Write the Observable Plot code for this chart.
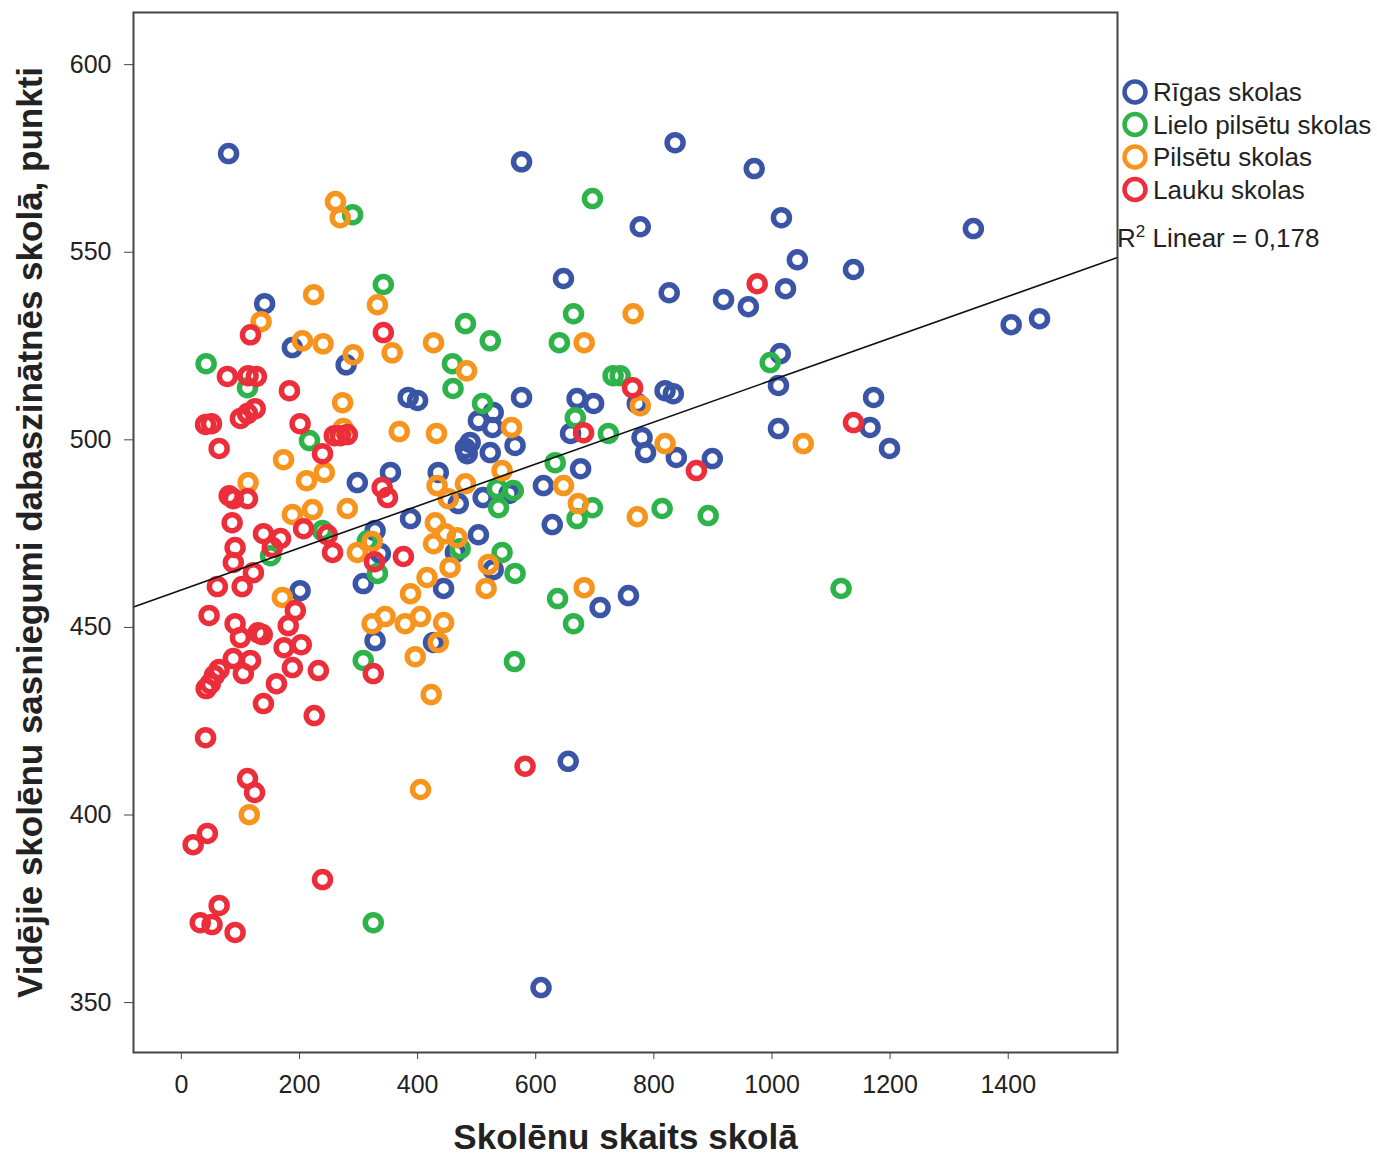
<!DOCTYPE html>
<html>
<head>
<meta charset="utf-8">
<script src="https://cdn.jsdelivr.net/npm/d3@7"></script>
<script src="https://cdn.jsdelivr.net/npm/@observablehq/plot@0.6"></script>
<style>
  html, body { margin: 0; padding: 0; background: #fff; }
  #chart { position: relative; width: 1377px; height: 1159px; }
</style>
</head>
<body>
<div id="chart"></div>
<script>
// School groups and their colours
const groups = ["Rīgas skolas", "Lielo pilsētu skolas", "Pilsētu skolas", "Lauku skolas"];
const groupColors = ["#3A55A6", "#2DB34A", "#F7941D", "#EC2D3A"];

// [students in school, mean science score]
const rigaSchools = [
  [80,576.3],[576,574.1],[836,579.2],[970,572.3],[777,556.8],[1016,559.2],[1341,556.3],[647,543.0],
  [1043,548.0],[1138,545.4],[826,539.2],[918,537.4],[960,535.5],[1023,540.3],[1405,530.7],[1453,532.3],
  [141,536.3],[188,524.6],[279,520.0],[1014,523.0],[1011,514.5],[1172,511.3],[1166,503.3],[1199,497.7],
  [1011,503.0],[899,495.0],[838,495.3],[780,500.6],[786,496.6],[772,509.7],[819,513.1],[833,512.3],
  [670,511.0],[698,509.7],[659,501.7],[676,492.3],[757,458.5],[709,455.3],[655,414.3],[609,354.0],
  [384,511.3],[400,510.5],[576,511.3],[528,507.3],[503,505.1],[527,503.3],[489,499.3],[481,497.7],
  [484,496.3],[523,496.6],[565,498.5],[354,491.3],[435,491.3],[298,488.6],[469,483.0],[511,484.6],
  [555,485.7],[613,487.8],[628,477.4],[388,479.0],[328,475.8],[337,469.7],[464,470.0],[503,474.7],
  [528,465.4],[308,461.7],[444,460.4],[328,446.5],[427,446.0],[201,459.8]
];
const bigCitySchools = [
  [696,564.3],[290,560.0],[342,541.4],[664,533.6],[481,531.0],[523,526.4],[640,525.9],[459,520.3],
  [460,513.7],[42,520.3],[112,513.9],[731,517.1],[743,517.1],[997,520.6],[510,509.7],[667,505.9],
  [723,501.7],[633,493.9],[217,499.8],[535,487.0],[562,486.5],[537,481.9],[696,481.9],[670,479.0],
  [814,481.7],[892,479.8],[239,475.8],[151,469.1],[315,473.1],[472,471.0],[543,470.0],[332,464.4],
  [565,464.4],[637,457.7],[664,451.0],[1117,460.4],[308,441.2],[564,440.9],[325,371.3]
];
const townSchools = [
  [261,563.5],[269,559.2],[224,538.7],[135,531.5],[205,526.4],[240,525.6],[291,522.7],[332,536.0],
  [357,523.2],[427,525.9],[483,518.4],[682,525.9],[765,533.6],[273,509.9],[274,503.0],[369,502.2],
  [432,501.7],[559,503.3],[777,509.1],[819,499.0],[1053,499.0],[173,494.7],[113,488.6],[212,489.1],
  [242,491.3],[188,480.1],[222,481.4],[281,481.7],[433,487.8],[481,488.3],[452,484.3],[543,491.8],
  [647,487.8],[672,483.0],[772,479.5],[430,477.9],[447,475.0],[427,472.3],[467,473.9],[323,472.9],
  [298,470.0],[455,466.0],[520,466.8],[416,463.3],[516,460.4],[388,459.0],[682,460.6],[171,458.0],
  [323,451.0],[345,452.9],[379,451.0],[405,452.9],[444,451.3],[435,446.0],[396,442.2],[423,432.1],
  [405,406.8],[115,400.1]
];
const ruralSchools = [
  [975,541.6],[117,528.0],[342,528.6],[78,516.9],[113,517.1],[127,516.9],[183,513.1],[41,504.1],
  [51,504.3],[100,505.7],[112,507.0],[125,508.3],[201,504.3],[64,497.7],[239,496.3],[259,501.1],
  [269,501.1],[281,501.4],[764,513.9],[681,501.9],[1138,504.6],[872,491.8],[340,487.3],[349,484.6],
  [81,485.1],[88,484.3],[112,484.3],[86,477.9],[207,476.3],[247,474.7],[256,470.0],[139,475.0],
  [168,473.7],[154,471.3],[91,471.3],[88,467.3],[122,464.6],[103,460.9],[61,460.9],[193,454.5],
  [47,453.2],[91,451.0],[100,447.3],[130,448.6],[137,448.1],[181,450.5],[174,444.6],[203,445.4],
  [88,441.7],[117,441.2],[105,437.7],[64,438.8],[56,437.2],[49,435.0],[42,433.7],[188,439.3],
  [232,438.5],[161,435.0],[139,429.7],[225,426.5],[41,420.6],[112,409.7],[124,406.0],[44,395.1],
  [20,392.1],[239,382.8],[64,375.9],[32,371.3],[52,370.8],[91,368.7],[325,437.7],[376,468.9],
  [327,467.5],[582,413.0]
];

// Axis ticks
const xTicks = [0, 200, 400, 600, 800, 1000, 1200, 1400];
const yTicks = [350, 400, 450, 500, 550, 600];

// Linear fit for all schools
const fitIntercept = 460.0;
const fitSlope = 0.0559;
const fitR2 = "0,178";

const xDomain = [-81, 1585];
const yDomain = [336.7, 613.9];

const series = [rigaSchools, bigCitySchools, townSchools, ruralSchools];
const points = series.flatMap((rows, i) => rows.map(([students, score]) => ({students, score, group: groups[i]})));
const fitLine = xDomain.map(x => ({students: x, score: fitIntercept + fitSlope * x}));

const font = "'Liberation Sans', Arial, sans-serif";

const plot = Plot.plot({
  width: 1377,
  height: 1159,
  marginLeft: 133,
  marginRight: 260,
  marginTop: 12,
  marginBottom: 107,
  style: {fontFamily: font, fontSize: "25px", color: "#222", background: "#fff"},
  x: {domain: xDomain},
  y: {domain: yDomain},
  color: {domain: groups, range: groupColors},
  marks: [
    Plot.axisX({ticks: xTicks, tickFormat: d => String(d), tickSize: 7, tickPadding: 16, label: null, fontSize: 25, stroke: "#444"}),
    Plot.axisY({ticks: yTicks, tickFormat: d => String(d), tickSize: 9, tickPadding: 13, label: null, fontSize: 25, stroke: "#444"}),
    Plot.dot(points, {x: "students", y: "score", stroke: "group", r: 8, strokeWidth: 5.5, fill: "none"}),
    Plot.line(fitLine, {x: "students", y: "score", stroke: "#111", strokeWidth: 1.6}),
    Plot.frame({stroke: "#444", strokeWidth: 2}),
    Plot.text(["Skolēnu skaits skolā"], {
      frameAnchor: "bottom", dy: 85, textAnchor: "middle", lineAnchor: "middle",
      fontSize: 35, fontWeight: "bold", fill: "#222"
    }),
    Plot.text(["Vidējie skolēnu sasniegumi dabaszinātnēs skolā, punkti"], {
      frameAnchor: "left", dx: -103, rotate: -90, textAnchor: "middle", lineAnchor: "middle",
      fontSize: 35, fontWeight: "bold", fill: "#222"
    })
  ]
});

document.getElementById("chart").appendChild(plot);

// Legend and fit annotation to the right of the frame
const svg = d3.select(plot);
const legend = svg.append("g")
  .attr("font-family", font)
  .attr("font-size", 26)
  .attr("fill", "#222")
  .attr("text-anchor", "start");
groups.forEach((g, i) => {
  const row = legend.append("g").attr("transform", `translate(1135, ${92 + i * 32.5})`);
  row.append("circle").attr("r", 10.5).attr("fill", "none").attr("stroke", groupColors[i]).attr("stroke-width", 4.5);
  row.append("text").attr("x", 18).attr("dy", "0.36em").text(g);
});
const r2 = legend.append("text").attr("x", 1117).attr("y", 247);
r2.append("tspan").text("R");
r2.append("tspan").attr("dy", -10).attr("font-size", 17).text("2");
r2.append("tspan").attr("dy", 10).text(` Linear = ${fitR2}`);
</script>
</body>
</html>
